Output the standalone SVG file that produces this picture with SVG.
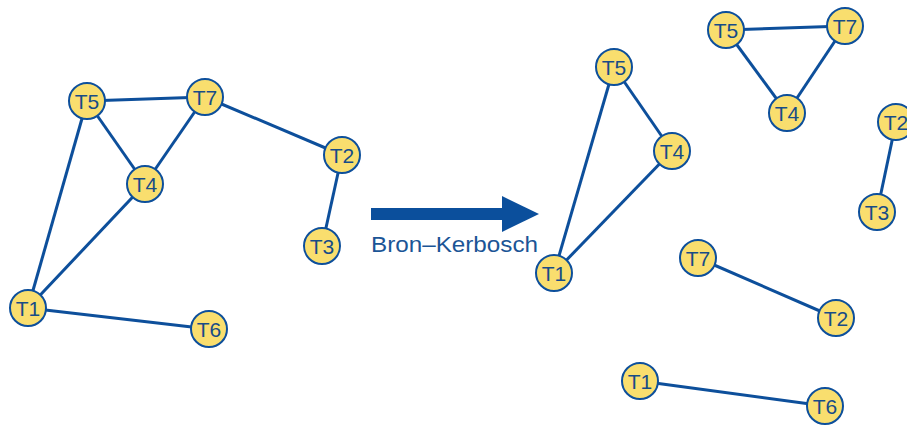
<svg xmlns="http://www.w3.org/2000/svg" width="907" height="425" viewBox="0 0 907 425">
<style>
.e{stroke:#0D4F9B;stroke-width:3;fill:none}
.n circle{fill:#F9DE6E;stroke:#0D4F9B;stroke-width:2}
.n text{font-family:"Liberation Sans",Arial,sans-serif;font-size:21px;fill:#174C87;text-anchor:middle;dominant-baseline:central}
</style>
<rect width="907" height="425" fill="#fff"/>
<g id="connectors">
<line class="e" x1="87" y1="101" x2="205" y2="97"/>
<line class="e" x1="87" y1="101" x2="145" y2="184"/>
<line class="e" x1="205" y1="97" x2="145" y2="184"/>
<line class="e" x1="205" y1="97" x2="342" y2="155"/>
<line class="e" x1="342" y1="155" x2="322" y2="246"/>
<line class="e" x1="87" y1="101" x2="28" y2="308"/>
<line class="e" x1="145" y1="184" x2="28" y2="308"/>
<line class="e" x1="28" y1="308" x2="209" y2="329"/>
<line class="e" x1="614" y1="67" x2="672" y2="151"/>
<line class="e" x1="614" y1="67" x2="554" y2="273"/>
<line class="e" x1="672" y1="151" x2="554" y2="273"/>
<line class="e" x1="726" y1="30" x2="845" y2="26"/>
<line class="e" x1="726" y1="30" x2="787" y2="113"/>
<line class="e" x1="845" y1="26" x2="787" y2="113"/>
<line class="e" x1="896" y1="122" x2="877" y2="212"/>
<line class="e" x1="698" y1="258" x2="836" y2="318"/>
<line class="e" x1="640" y1="381" x2="825" y2="406"/>
</g>
<g id="arrow">
<rect x="371" y="208" width="133" height="12" fill="#0B4F9C"/>
<polygon points="502,196 539,214 502,232" fill="#0B4F9C"/>
<text x="371" y="252" font-family="Liberation Sans,Arial,sans-serif" font-size="22" fill="#1B5596" textLength="167" lengthAdjust="spacingAndGlyphs">Bron–Kerbosch</text>
</g>
<g id="L_T5" class="n"><circle cx="87" cy="101" r="18"/><text x="87" y="101">T5</text></g>
<g id="L_T7" class="n"><circle cx="205" cy="97" r="18"/><text x="205" y="97">T7</text></g>
<g id="L_T4" class="n"><circle cx="145" cy="184" r="18"/><text x="145" y="184">T4</text></g>
<g id="L_T2" class="n"><circle cx="342" cy="155" r="18"/><text x="342" y="155">T2</text></g>
<g id="L_T3" class="n"><circle cx="322" cy="246" r="18"/><text x="322" y="246">T3</text></g>
<g id="L_T1" class="n"><circle cx="28" cy="308" r="18"/><text x="28" y="308">T1</text></g>
<g id="L_T6" class="n"><circle cx="209" cy="329" r="18"/><text x="209" y="329">T6</text></g>
<g id="A_T5" class="n"><circle cx="614" cy="67" r="18"/><text x="614" y="67">T5</text></g>
<g id="A_T4" class="n"><circle cx="672" cy="151" r="18"/><text x="672" y="151">T4</text></g>
<g id="A_T1" class="n"><circle cx="554" cy="273" r="18"/><text x="554" y="273">T1</text></g>
<g id="B_T5" class="n"><circle cx="726" cy="30" r="18"/><text x="726" y="30">T5</text></g>
<g id="B_T7" class="n"><circle cx="845" cy="26" r="18"/><text x="845" y="26">T7</text></g>
<g id="B_T4" class="n"><circle cx="787" cy="113" r="18"/><text x="787" y="113">T4</text></g>
<g id="C_T2" class="n"><circle cx="896" cy="122" r="18"/><text x="896" y="122">T2</text></g>
<g id="C_T3" class="n"><circle cx="877" cy="212" r="18"/><text x="877" y="212">T3</text></g>
<g id="D_T7" class="n"><circle cx="698" cy="258" r="18"/><text x="698" y="258">T7</text></g>
<g id="D_T2" class="n"><circle cx="836" cy="318" r="18"/><text x="836" y="318">T2</text></g>
<g id="E_T1" class="n"><circle cx="640" cy="381" r="18"/><text x="640" y="381">T1</text></g>
<g id="E_T6" class="n"><circle cx="825" cy="406" r="18"/><text x="825" y="406">T6</text></g>
</svg>
